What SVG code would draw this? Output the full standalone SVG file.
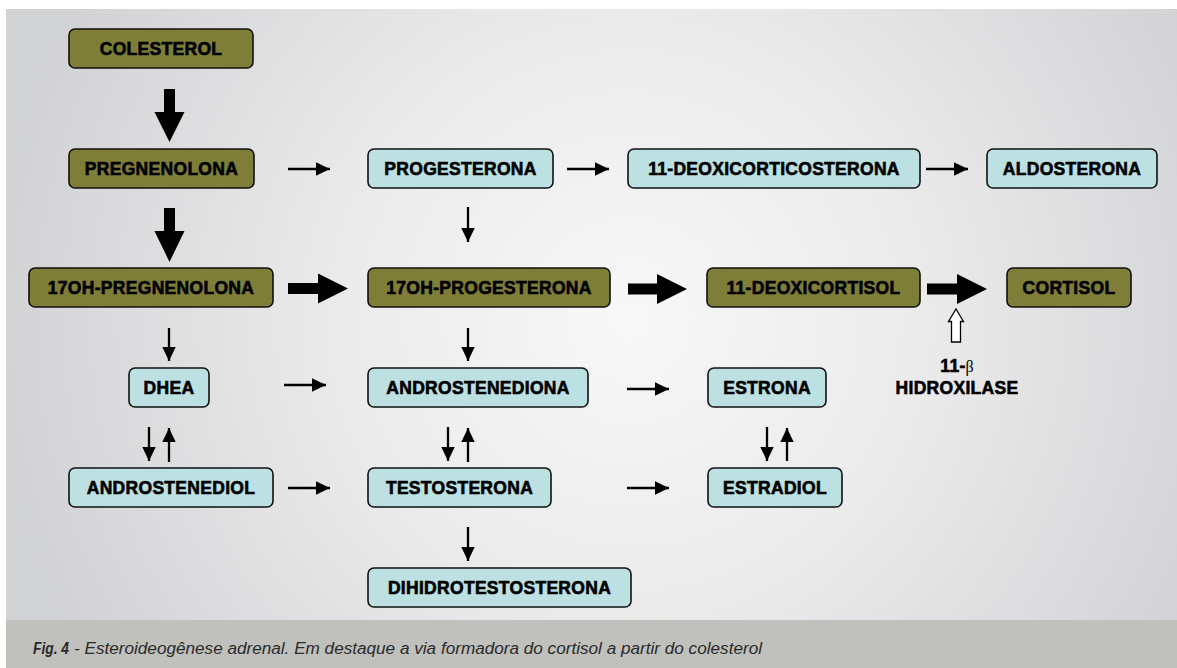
<svg xmlns="http://www.w3.org/2000/svg" width="1177" height="668" viewBox="0 0 1177 668">
  <defs>
    <radialGradient id="bg" gradientUnits="userSpaceOnUse" cx="630" cy="320" r="640">
      <stop offset="0" stop-color="#f8f8f8"/>
      <stop offset="0.45" stop-color="#ebebec"/>
      <stop offset="1" stop-color="#d1d2d4"/>
    </radialGradient>
    <marker id="ah" markerUnits="userSpaceOnUse" markerWidth="15" markerHeight="14" refX="14" refY="7" orient="auto">
      <path d="M0,0.3 L14,7 L0,13.7 Z" fill="#000"/>
    </marker>
    <style>
      .box { stroke: #111; stroke-width: 1.6; }
      .olive { fill: #7e7e38; }
      .blue { fill: #bde0e3; }
      .lbl { font-family: "Liberation Sans", Arial, sans-serif; font-weight: bold; font-size: 17.5px; letter-spacing: 0.3px; fill: #000; stroke: #000; stroke-width: 0.6px; text-anchor: middle; }
      .thin { stroke: #000; stroke-width: 2.3; fill: none; marker-end: url(#ah); }
      .thick { fill: #000; }
      .cap { font-family: "Liberation Sans", Arial, sans-serif; font-style: italic; font-size: 16px; fill: #2a2a2a; }
    </style>
  </defs>

  <rect x="0" y="0" width="1177" height="668" fill="#ffffff"/>
  <rect x="6" y="9" width="1171" height="611" fill="url(#bg)"/>
  <rect x="6" y="620" width="1171" height="48" fill="#c0c0bc"/>

  <g id="caption">
    <text class="cap" x="33" y="654" font-weight="bold" font-size="17px" textLength="36" lengthAdjust="spacingAndGlyphs">Fig. 4</text>
    <text class="cap" x="74" y="654" textLength="688" lengthAdjust="spacingAndGlyphs">- Esteroideogênese adrenal. Em destaque a via formadora do cortisol a partir do colesterol</text>
  </g>

  <g id="connectors">
    <polygon class="thick" points="164,89 175,89 175,112 184.5,112 169.5,142 154.5,112 164,112"/>
    <polygon class="thick" points="164,208 175,208 175,231 184.5,231 169.5,262 154.5,231 164,231"/>
    <polygon class="thick" points="288,283 318,283 318,273.5 348,288.5 318,303.5 318,294 288,294"/>
    <polygon class="thick" points="628,283.5 657,283.5 657,274 687,289 657,304 657,294.5 628,294.5"/>
    <polygon class="thick" points="927,283.5 957,283.5 957,274 987,289 957,304 957,294.5 927,294.5"/>

    <line class="thin" x1="288" y1="169" x2="330" y2="169"/>
    <line class="thin" x1="567" y1="169" x2="609" y2="169"/>
    <line class="thin" x1="926" y1="169" x2="968" y2="169"/>
    <line class="thin" x1="468" y1="207" x2="468" y2="242"/>
    <line class="thin" x1="169" y1="328" x2="169" y2="361"/>
    <line class="thin" x1="468" y1="328" x2="468" y2="361"/>
    <line class="thin" x1="284" y1="385" x2="326" y2="385"/>
    <line class="thin" x1="627" y1="389" x2="669" y2="389"/>
    <line class="thin" x1="149" y1="427" x2="149" y2="461"/>
    <line class="thin" x1="169" y1="462" x2="169" y2="428"/>
    <line class="thin" x1="288" y1="488" x2="330" y2="488"/>
    <line class="thin" x1="448" y1="427" x2="448" y2="461"/>
    <line class="thin" x1="468" y1="462" x2="468" y2="428"/>
    <line class="thin" x1="627" y1="488" x2="669" y2="488"/>
    <line class="thin" x1="767" y1="427" x2="767" y2="461"/>
    <line class="thin" x1="787" y1="461" x2="787" y2="428"/>
    <line class="thin" x1="468" y1="527" x2="468" y2="561"/>

    <polygon points="956,309 963.5,321.5 960.5,321.5 960.5,342 951.5,342 951.5,321.5 948.5,321.5" fill="#fff" stroke="#000" stroke-width="1.3" stroke-linejoin="miter"/>
  </g>

  <g id="enzyme">
    <text class="lbl" x="957" y="372"><tspan>11-</tspan><tspan font-family="'Liberation Serif', serif" font-weight="normal" font-size="16px" letter-spacing="0" stroke-width="0">β</tspan></text>
    <text class="lbl" x="957" y="394">HIDROXILASE</text>
  </g>

  <g id="n-colesterol"><rect class="box olive" x="69" y="29" width="184" height="39" rx="6"/><text class="lbl" x="161" y="54.5">COLESTEROL</text></g>
  <g id="n-pregnenolona"><rect class="box olive" x="69" y="149" width="185" height="39" rx="6"/><text class="lbl" x="161.5" y="174.5">PREGNENOLONA</text></g>
  <g id="n-progesterona"><rect class="box blue" x="368" y="149" width="185" height="39" rx="6"/><text class="lbl" x="460.5" y="174.5">PROGESTERONA</text></g>
  <g id="n-11-deoxicorticosterona"><rect class="box blue" x="628" y="149" width="292" height="39" rx="6"/><text class="lbl" x="774" y="174.5">11-DEOXICORTICOSTERONA</text></g>
  <g id="n-aldosterona"><rect class="box blue" x="987" y="149" width="170" height="39" rx="6"/><text class="lbl" x="1072" y="174.5">ALDOSTERONA</text></g>
  <g id="n-17oh-pregnenolona"><rect class="box olive" x="29" y="268" width="244" height="39" rx="6"/><text class="lbl" x="151" y="293.5">17OH-PREGNENOLONA</text></g>
  <g id="n-17oh-progesterona"><rect class="box olive" x="368" y="268" width="242" height="39" rx="6"/><text class="lbl" x="489" y="293.5">17OH-PROGESTERONA</text></g>
  <g id="n-11-deoxicortisol"><rect class="box olive" x="707" y="268" width="213" height="39" rx="6"/><text class="lbl" x="813.5" y="293.5">11-DEOXICORTISOL</text></g>
  <g id="n-cortisol"><rect class="box olive" x="1007" y="268" width="124" height="39" rx="6"/><text class="lbl" x="1069" y="293.5">CORTISOL</text></g>
  <g id="n-dhea"><rect class="box blue" x="129" y="368" width="80" height="39" rx="6"/><text class="lbl" x="169" y="393.5">DHEA</text></g>
  <g id="n-androstenediona"><rect class="box blue" x="368" y="368" width="220" height="39" rx="6"/><text class="lbl" x="478" y="393.5">ANDROSTENEDIONA</text></g>
  <g id="n-estrona"><rect class="box blue" x="708" y="368" width="118" height="39" rx="6"/><text class="lbl" x="767" y="393.5">ESTRONA</text></g>
  <g id="n-androstenediol"><rect class="box blue" x="69" y="468" width="204" height="39" rx="6"/><text class="lbl" x="171" y="493.5">ANDROSTENEDIOL</text></g>
  <g id="n-testosterona"><rect class="box blue" x="368" y="468" width="183" height="39" rx="6"/><text class="lbl" x="459.5" y="493.5">TESTOSTERONA</text></g>
  <g id="n-estradiol"><rect class="box blue" x="708" y="468" width="134" height="39" rx="6"/><text class="lbl" x="775" y="493.5">ESTRADIOL</text></g>
  <g id="n-dihidrotestosterona"><rect class="box blue" x="368" y="568" width="263" height="39" rx="6"/><text class="lbl" x="499.5" y="593.5">DIHIDROTESTOSTERONA</text></g>
</svg>
